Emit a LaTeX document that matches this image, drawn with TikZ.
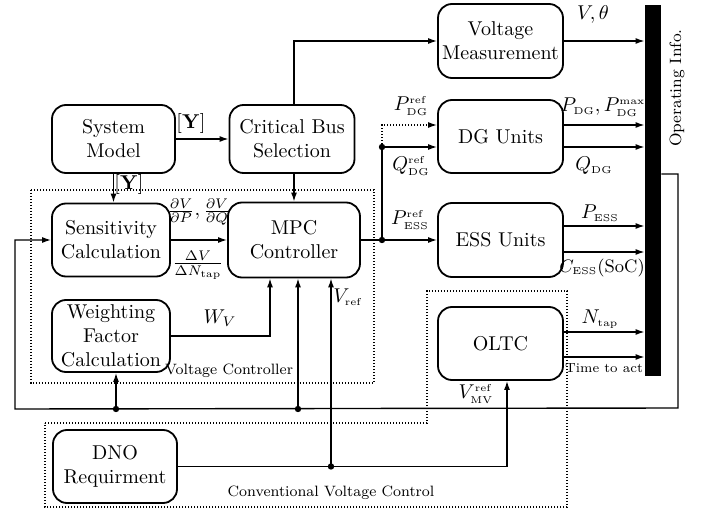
\documentclass[tikz,border=0pt]{standalone}
\usetikzlibrary{arrows.meta}
\newcommand{\rs}[1]{\mathrm{\scriptscriptstyle #1}}
\begin{document}
\begin{tikzpicture}[x=0.5pt,y=-0.5pt,
 blk/.style={draw, line width=0.9pt, rounded corners=7pt, align=center, inner sep=1pt},
 arr/.style={-{Latex[length=4.5pt,width=3pt]}, line width=0.7pt},
 ln/.style={line width=0.7pt},
 grp/.style={line width=0.6pt, dash pattern=on 0.7pt off 0.8pt},
 jdot/.style={circle, fill, inner sep=0pt, minimum size=3.2pt},
 lbl/.style={inner sep=0.5pt},
 small/.style={font=\fontsize{7.5}{9}\selectfont}]
\useasboundingbox (0,0) rectangle (702,508);

% blocks
\node[blk, minimum width=61.5pt, minimum height=34pt] (sys) at (113.5,139) {System\\Model};
\node[blk, minimum width=59pt, minimum height=36.5pt] (sens) at (111,240) {Sensitivity\\Calculation};
\node[blk, minimum width=62.5pt, minimum height=34pt] (cbs) at (292,139) {Critical Bus\\Selection};
\node[blk, minimum width=66pt, minimum height=37.5pt] (mpc) at (294,240) {MPC\\Controller};
\node[blk, minimum width=62.5pt, minimum height=37pt] (vm) at (500.5,41) {Voltage\\Measurement};
\node[blk, minimum width=62.5pt, minimum height=36.5pt] (dg) at (500.5,136.5) {DG Units};
\node[blk, minimum width=62.5pt, minimum height=37pt] (ess) at (500.5,240) {ESS Units};
\node[blk, minimum width=59pt, minimum height=36pt] (wf) at (111,336) {Weighting\\Factor\\Calculation};
\node[blk, minimum width=62pt, minimum height=36.5pt] (dno) at (115,466.5) {DNO\\Requirment};
\node[blk, minimum width=62.5pt, minimum height=36.5pt] (oltc) at (500.5,343.5) {OLTC};
\node[fill=black, inner sep=0pt, minimum width=8pt, minimum height=185.5pt] (bar) at (653,190.5) {};

% group boxes
\draw[grp] (31,190) rectangle (374,383);
\draw[grp] (45,423) -- (427,423) -- (427,291) -- (567,291) -- (567,507) -- (45,507) -- cycle;

% coordinates
\coordinate (j1) at (382,240);
\coordinate (j2) at (382,147);
\coordinate (pdg) at (382,125);
\coordinate (e1) at (600,226);
\coordinate (e2) at (600,252);
\coordinate (o1) at (600,332);
\coordinate (o2) at (600,357);
\coordinate (f0) at (678,174);
\coordinate (f1) at (678,408);
\coordinate (f2) at (15,409);
\coordinate (fw) at (116,409);
\coordinate (fm) at (298,409);
\coordinate (wv) at (270,336);
\coordinate (dv) at (331,466.5);
\coordinate (dm) at (507,466.5);

% connectors
\draw[arr] (sys) -- (cbs);
\draw[arr] (sys.south) -- (sys.south |- sens.north);
\draw[arr] (sens) -- (mpc);
\draw[arr] (cbs.south -| mpc) -- (mpc.north);
\draw[arr] (cbs.north -| mpc) |- (vm.west);
\draw[arr] (vm) -- (vm -| bar.west);
\draw[arr] (mpc.east) -- (ess.west);
\draw[ln] (j1) -- (j2);
\draw[arr] (j2) -- (j2 -| dg.west);
\draw[grp, arr] (j2) -- (pdg) -- (pdg -| dg.west);
\draw[arr] (dg.east |- pdg) -- (bar.west |- pdg);
\draw[arr] (dg.east |- j2) -- (bar.west |- j2);
\draw[arr] (ess.east |- e1) -- (bar.west |- e1);
\draw[arr] (ess.east |- e2) -- (bar.west |- e2);
\draw[arr] (oltc.east |- o1) -- (bar.west |- o1);
\draw[arr] (oltc.east |- o2) -- (bar.west |- o2);
\draw[arr] (bar.east |- f0) -- (f0) -- (f1) -- (f2) |- (sens.west);
\draw[arr] (fw) -- (fw |- wf.south);
\draw[arr] (fm) -- (fm |- mpc.south);
\draw[arr] (wf.east |- wv) -- (wv) -- (wv |- mpc.south);
\draw[arr] (dno.east) -- (dm) -- (dm |- oltc.south);
\draw[arr] (dv) -- (dv |- mpc.south);

% junction dots
\node[jdot] (d1) at (j1) {};
\node[jdot] (d2) at (j2) {};
\node[jdot] (d3) at (fw) {};
\node[jdot] (d4) at (fm) {};
\node[jdot] (d5) at (dv) {};

% labels
\node[lbl] (ly1) at (191,124) {$[\mathbf{Y}]$};
\node[lbl] (ly2) at (129,185) {$[\mathbf{Y}]$};
\node[lbl] (lds) at (199,212) {$\frac{\partial V}{\partial P},\frac{\partial V}{\partial Q}$};
\node[lbl] (ldn) at (198,265) {$\frac{\Delta V}{\Delta N_{\rs{tap}}}$};
\node[lbl] (lwv) at (220,318) {$W_V$};
\node[lbl] (lvr) at (348,297) {$V_{\rs{ref}}$};
\node[lbl] (lvmv) at (476,394) {$V_{\rs{MV}}^{\rs{ref}}$};
\node[lbl] (lpdgr) at (411,106) {$P_{\rs{DG}}^{\rs{ref}}$};
\node[lbl] (lqdgr) at (411,166) {$Q_{\rs{DG}}^{\rs{ref}}$};
\node[lbl] (lpessr) at (410,220) {$P_{\rs{ESS}}^{\rs{ref}}$};
\node[lbl] (lpdg) at (603,107) {$P_{\rs{DG}},P_{\rs{DG}}^{\rs{max}}$};
\node[lbl] (lqdg) at (594,166) {$Q_{\rs{DG}}$};
\node[lbl] (lpess) at (600,213) {$P_{\rs{ESS}}$};
\node[lbl, font=\fontsize{9}{10}\selectfont] (lcess) at (602,268) {$C_{\rs{ESS}}$(SoC)};
\node[lbl] (lvt) at (593,15) {$V,\theta$};
\node[lbl] (lnt) at (600,319) {$N_{\rs{tap}}$};
\node[lbl, font=\fontsize{6.6}{8}\selectfont] (lta) at (604,368) {Time to act};
\node[lbl, rotate=90, font=\fontsize{8.2}{10}\selectfont] (lop) at (677,88) {Operating Info.};
\node[lbl, small] (lvc) at (229,371) {Voltage Controller};
\node[lbl, small] (lcvc) at (331,493) {Conventional Voltage Control};
\end{tikzpicture}
\end{document}
